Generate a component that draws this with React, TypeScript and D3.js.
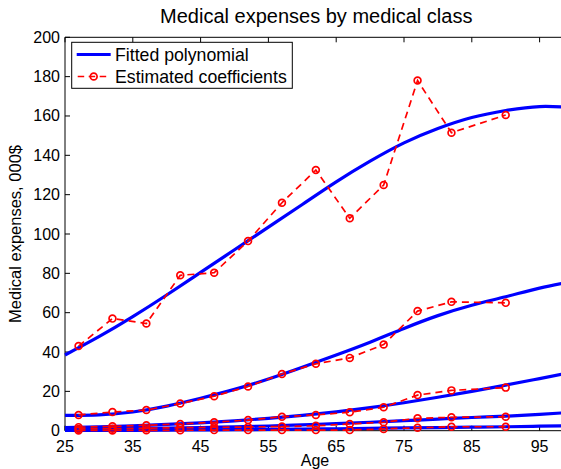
import * as d3 from "d3";

// ages where the coefficients were estimated
const ages = [27, 32, 37, 42, 47, 52, 57, 62, 67, 72, 77, 82, 90];

// estimated coefficients per medical class (000$)
const estimated = [
  [43, 57, 54.5, 79, 80.3, 96.4, 115.9, 132.5, 108, 124.9, 178, 151.5, 160.5],
  [8, 9.5, 10.5, 13.8, 17.5, 22.5, 28.8, 34, 37, 43.8, 60.8, 65.5, 65],
  [1.8, 2.2, 2.8, 3.4, 4.3, 5.4, 7.1, 8, 9.4, 11.9, 18.1, 20.5, 21.9],
  [0.9, 1, 1.3, 1.5, 1.7, 1.9, 2.1, 2.5, 3.4, 4.3, 6.3, 6.8, 7.1],
  [0.1, 0.1, 0.2, 0.2, 0.3, 0.3, 0.3, 0.3, 0.3, 0.9, 1.5, 2, 2],
];

// fitted polynomial read at every 5 years
const fitAges = [25, 30, 35, 40, 45, 50, 55, 60, 65, 70, 75, 80, 85, 90, 95, 100];
const fitted = [
  [38.5, 47.8, 58, 69, 80.5, 92, 103.5, 115, 126.5, 137, 146.3, 153.6, 159.2, 162.8, 164.8, 164.3],
  [7.8, 8, 9.5, 12.5, 16.5, 21, 26.3, 32.3, 38.5, 45, 52, 58.5, 63.8, 68.1, 72.5, 76],
  [1.6, 2, 2.5, 3.2, 4, 5, 6.3, 7.8, 9.6, 11.7, 14.2, 17, 20, 23.2, 26.5, 29.8],
  [0.8, 0.9, 1.1, 1.3, 1.6, 2, 2.4, 3, 3.6, 4.3, 5.1, 5.9, 6.7, 7.4, 8.3, 9.4],
  [0.1, 0.15, 0.2, 0.3, 0.4, 0.5, 0.6, 0.8, 1, 1.2, 1.4, 1.6, 1.8, 2, 2.3, 2.6],
];

const xTicks = [25, 35, 45, 55, 65, 75, 85, 95];
const yTicks = [0, 20, 40, 60, 80, 100, 120, 140, 160, 180, 200];

const font = "'Liberation Sans', Arial, Helvetica, sans-serif";

function App() {
  const width = 561;
  const height = 469;
  const left = 65;
  const right = 573.5;
  const top = 37.3;
  const bottom = 430.7;

  const x = d3.scaleLinear().domain([25, 100]).range([left, right]);
  const y = d3.scaleLinear().domain([0, 200]).range([bottom, top]);

  const fitLine = d3
    .line<number>()
    .x((_, i) => x(fitAges[i]))
    .y((d) => y(d))
    .curve(d3.curveNatural);
  const estLine = d3
    .line<number>()
    .x((_, i) => x(ages[i]))
    .y((d) => y(d));

  const tick = 5;

  return (
    <svg
      width={width}
      height={height}
      style={{ position: "absolute", left: 0, top: 0, background: "#fff" }}
      fontFamily={font}
    >
      <text x={(left + right) / 2 - 3} y={23} textAnchor="middle" fontSize={20}>
        Medical expenses by medical class
      </text>

      {/* axes box */}
      <g stroke="#000" strokeWidth={1} fill="none">
        <line x1={left} x2={right} y1={bottom} y2={bottom} />
        <line x1={left} x2={right} y1={top} y2={top} />
        <line x1={left} x2={left} y1={top} y2={bottom} />
        {xTicks.map((t) => (
          <g key={t}>
            <line x1={x(t)} x2={x(t)} y1={bottom} y2={bottom - tick} />
            <line x1={x(t)} x2={x(t)} y1={top} y2={top + tick} />
          </g>
        ))}
        {yTicks.map((t) => (
          <line key={t} x1={left} x2={left + tick} y1={y(t)} y2={y(t)} />
        ))}
      </g>
      <g fontSize={16} fill="#000">
        {xTicks.map((t) => (
          <text key={t} x={x(t)} y={452} textAnchor="middle">
            {t}
          </text>
        ))}
        {yTicks.map((t) => (
          <text key={t} x={left - 5} y={y(t) + 5.5} textAnchor="end">
            {t}
          </text>
        ))}
      </g>
      <text x={315} y={466} textAnchor="middle" fontSize={16}>
        Age
      </text>
      <text
        transform={`translate(21,${(top + bottom) / 2}) rotate(-90)`}
        textAnchor="middle"
        fontSize={16.5}
      >
        Medical expenses, 000$
      </text>

      {/* fitted curves */}
      <g fill="none" stroke="#0000ff" strokeWidth={3.2}>
        {fitted.map((s, i) => (
          <path key={i} d={fitLine(s) ?? ""} />
        ))}
      </g>
      {/* estimated coefficients */}
      <g fill="none" stroke="#ff0000" strokeWidth={1.7}>
        {estimated.map((s, i) => (
          <g key={i}>
            <path d={estLine(s) ?? ""} strokeDasharray="7,5" />
            {s.map((v, j) => (
              <circle key={j} cx={x(ages[j])} cy={y(v)} r={3.4} />
            ))}
          </g>
        ))}
      </g>

      {/* legend */}
      <rect x={71.7} y={42.3} width={220.6} height={46} fill="#fff" stroke="#000" strokeWidth={1} />
      <line x1={76.7} x2={110.7} y1={54.5} y2={54.5} stroke="#0000ff" strokeWidth={3.2} />
      <line
        x1={76.7}
        x2={110.7}
        y1={76.5}
        y2={76.5}
        stroke="#ff0000"
        strokeWidth={1.7}
        strokeDasharray="6.5,4.5"
        strokeDashoffset={-1}
      />
      <circle cx={93.7} cy={76.5} r={3.4} fill="none" stroke="#ff0000" strokeWidth={1.7} />
      <g fontSize={17.7}>
        <text x={115} y={61}>
          Fitted polynomial
        </text>
        <text x={115} y={83}>
          Estimated coefficients
        </text>
      </g>
    </svg>
  );
}

export default App;
